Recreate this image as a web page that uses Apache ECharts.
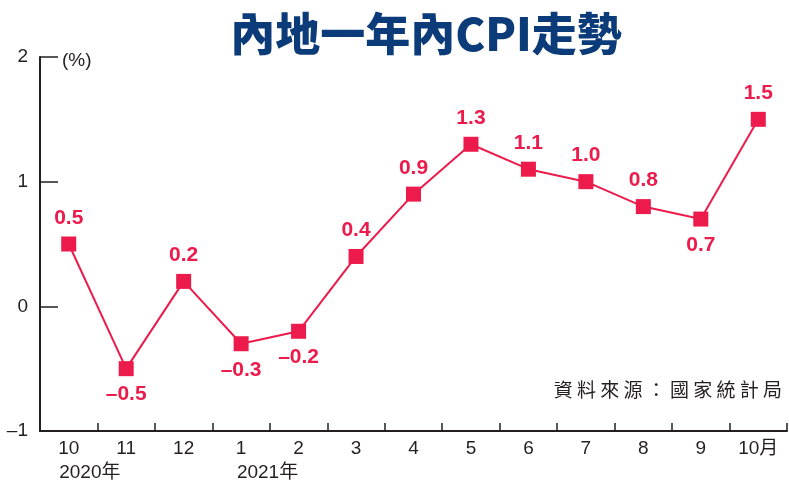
<!DOCTYPE html>
<html><head><meta charset="utf-8">
<script src="https://cdn.jsdelivr.net/npm/echarts@6/dist/echarts.min.js"></script>
<style>html,body{margin:0;padding:0;background:#fff}#c{width:789px;height:483px}</style>
</head><body><div id="c"></div>
<script>
const categories = ['10\n        2020年','11','12','1\n          2021年','2','3','4','5','6','7','8','9','10月'];
const cpiValues = [0.5,-0.5,0.2,-0.3,-0.2,0.4,0.9,1.3,1.1,1.0,0.8,0.7,1.5];
const labelBelow = [false,true,false,true,true,false,false,false,false,false,false,true,false];
const yTicks = [-1,0,1,2];

const red = '#ec1b4b';
const fmt = v => (v < 0 ? '\u2013' + Math.abs(v).toFixed(1) : v.toFixed(1));
const chart = echarts.init(document.getElementById('c'), null, {renderer:'canvas'});
chart.setOption({
  animation:false,
  title:{text:'內地一年內CPI走勢',left:421,top:6,textAlign:'center',
    textStyle:{color:'#0b3b78',fontSize:45,fontWeight:900,fontFamily:'"Noto Sans CJK TC","Liberation Sans",sans-serif'}},
  grid:{left:40,right:2,top:57,bottom:52,outerBoundsMode:'none',containLabel:false},
  xAxis:{type:'category',data:categories,boundaryGap:true,
    axisLine:{onZero:false,lineStyle:{color:'#231f20',width:2}},
    axisTick:{show:true,inside:true,length:8,interval:0,lineStyle:{color:'#231f20',width:1.5}},
    axisLabel:{interval:0,color:'#231f20',fontSize:19,margin:6,lineHeight:24,fontFamily:'"Liberation Sans","Noto Sans CJK TC",sans-serif'}},
  yAxis:{type:'value',min:-1,max:2,interval:1,
    name:'(%)',nameLocation:'end',nameGap:-4,
    nameTextStyle:{color:'#231f20',fontSize:19,align:'left',padding:[0,0,0,22],verticalAlign:'middle',fontFamily:'"Liberation Sans",sans-serif'},
    axisLine:{show:true,lineStyle:{color:'#231f20',width:2}},
    axisTick:{show:true,inside:true,length:18,lineStyle:{color:'#231f20',width:1.5}},
    splitLine:{show:false},
    axisLabel:{color:'#231f20',fontSize:19,margin:12,fontFamily:'"Liberation Sans",sans-serif',
      formatter:v=> v<0 ? '\u2013'+Math.abs(v) : String(v)}},
  series:[{type:'line',data:cpiValues.map((v,i)=>({value:v,label:{position:labelBelow[i]?'bottom':'top'}})),
    symbol:'rect',symbolSize:15,
    lineStyle:{color:red,width:2},itemStyle:{color:red},
    label:{show:true,color:red,fontSize:21,fontWeight:'bold',distance:8,
      fontFamily:'"Liberation Sans",sans-serif',formatter:p=>fmt(p.value)}}],
  graphic:[{type:'text',right:7,top:380,style:{text:'資 料 來 源 ： 國 家 統 計 局',fill:'#231f20',fontSize:19,
    fontFamily:'"Noto Sans CJK TC",sans-serif'}}]
});
</script></body></html>
